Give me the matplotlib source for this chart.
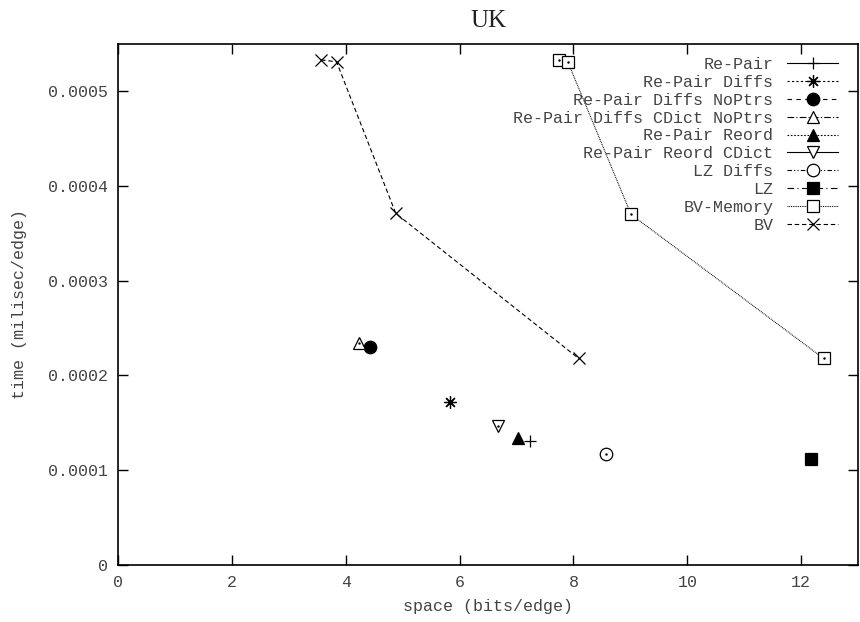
import numpy as np
import matplotlib
matplotlib.use('Agg')
import matplotlib.pyplot as plt

plt.rcParams['font.family'] = ['Liberation Mono', 'DejaVu Sans Mono']

# 各方法的数据 (space bits/edge, time milisec/edge)
repair_x = [7.23]
repair_y = [1.31e-4]
diffs_x = [5.84]
diffs_y = [1.72e-4]
diffs_noptrs_x = [4.42]
diffs_noptrs_y = [2.30e-4]
cdict_noptrs_x = [4.23]
cdict_noptrs_y = [2.34e-4]
reord_x = [7.02]
reord_y = [1.34e-4]
reord_cdict_x = [6.68]
reord_cdict_y = [1.47e-4]
lzdiffs_x = [8.57]
lzdiffs_y = [1.17e-4]
lz_x = [12.17]
lz_y = [1.12e-4]
bvmem_x = [7.75, 7.90, 9.01, 12.39]
bvmem_y = [5.33e-4, 5.31e-4, 3.70e-4, 2.18e-4]
bv_x = [3.57, 3.84, 4.88, 8.09]
bv_y = [5.33e-4, 5.31e-4, 3.71e-4, 2.18e-4]

labels = ['Re-Pair', 'Re-Pair Diffs', 'Re-Pair Diffs NoPtrs', 'Re-Pair Diffs CDict NoPtrs',
          'Re-Pair Reord', 'Re-Pair Reord CDict', 'LZ Diffs', 'LZ', 'BV-Memory', 'BV']

series = [
    (repair_x, repair_y, '-', '+', 'k'),
    (diffs_x, diffs_y, (0, (2, 2)), (8, 2, 0), 'k'),
    (diffs_noptrs_x, diffs_noptrs_y, (0, (4, 4)), 'o', 'k'),
    (cdict_noptrs_x, cdict_noptrs_y, (0, (6, 2, 1, 2)), '^', 'w'),
    (reord_x, reord_y, (0, (1.5, 1.5)), '^', 'k'),
    (reord_cdict_x, reord_cdict_y, '-', 'v', 'w'),
    (lzdiffs_x, lzdiffs_y, (0, (4, 2, 1, 2, 1, 2)), 'o', 'w'),
    (lz_x, lz_y, (0, (6, 3, 1, 3)), 's', 'k'),
    (bvmem_x, bvmem_y, (0, (0.8, 0.8)), 's', 'w'),
    (bv_x, bv_y, (0, (4, 2.5)), 'x', 'k'),
]

fig = plt.figure(figsize=(8.6, 6.22), dpi=100)
ax = fig.add_axes([0.137, 0.0916, 0.861, 0.838])

for (xs, ys, ls, mk, fc), lab in zip(series, labels):
    ax.plot(xs, ys, linestyle=ls, color='k', linewidth=0.8, marker=mk,
            markersize=9, markerfacecolor=fc, markeredgecolor='k',
            markeredgewidth=0.9, label=lab)
    if fc == 'w':
        ax.plot(xs, ys, linestyle='none', marker='.', markersize=1.5, color='k')

ax.set_xlim(0, 13)
ax.set_ylim(0, 0.00055)
ax.set_xticks([0, 2, 4, 6, 8, 10, 12])
ax.set_yticks([0, 0.0001, 0.0002, 0.0003, 0.0004, 0.0005])
ax.set_yticklabels(['0', '0.0001', '0.0002', '0.0003', '0.0004', '0.0005'])
ax.tick_params(direction='in', length=7, width=1, top=True, right=True,
               labelsize=12, labelcolor='#444444', pad=7)
for sp in ax.spines.values():
    sp.set_linewidth(1.2)

ax.set_xlabel('space (bits/edge)', fontsize=12, color='#444444', labelpad=7)
ax.set_ylabel('time (milisec/edge)', fontsize=12, color='#444444', labelpad=15)
ax.set_title('UK', fontsize=18, color='#222222', pad=12, family='Liberation Serif')

leg = ax.legend(loc='upper right', bbox_to_anchor=(0.991, 1.0), frameon=False,
                markerfirst=False, fontsize=12,
                handlelength=3.05, labelspacing=0.17, borderaxespad=0.6,
                handletextpad=0.84, borderpad=0.2)
for t in leg.get_texts():
    t.set_ha('right')
    t.set_color('#444444')

plt.savefig('out.png')
